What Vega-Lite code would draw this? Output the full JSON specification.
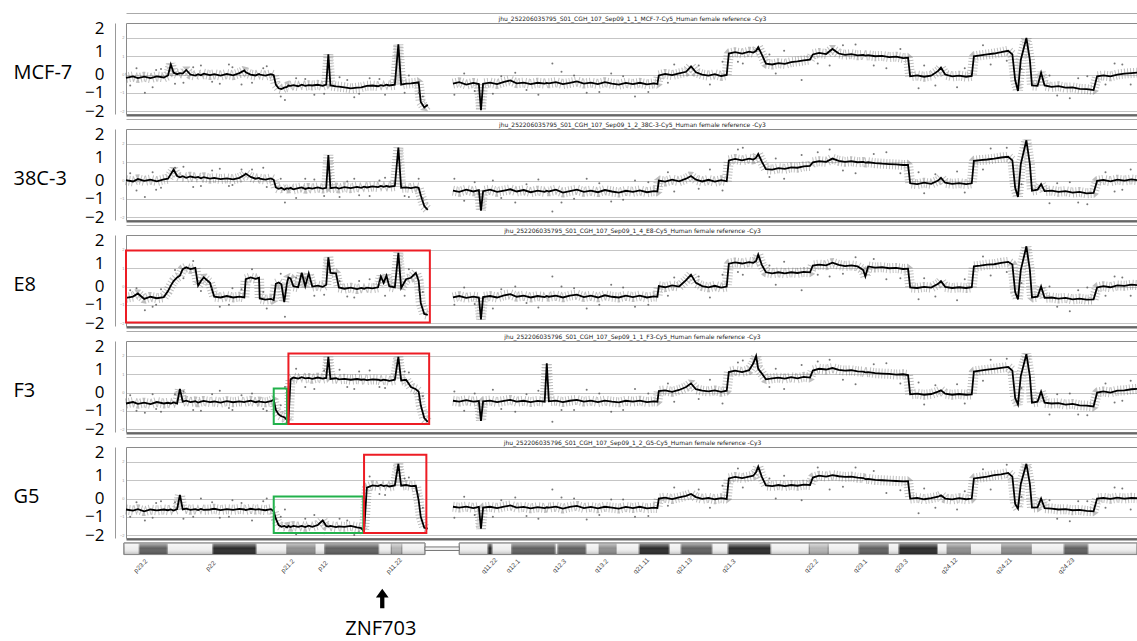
{
"$schema":"https://vega.github.io/schema/vega-lite/v6.json",
"background":"white",
"padding":{"left":12,"top":12,"right":0,"bottom":0},
"config":{"view":{"stroke":"#8a8a8a","strokeWidth":1}},
"datasets":{
"ln":[
{"x":0,"g":0,"a":-0.18,"b":0.02,"c":-0.62,"d":-0.6,"e":-0.6},
{"x":1,"g":0,"a":-0.1,"b":-0.05,"c":-0.55,"d":-0.52,"e":-0.66},
{"x":1.7,"g":0,"a":-0.2,"b":0.08,"c":-0.38,"d":-0.62,"e":-0.58},
{"x":2.6,"g":0,"a":-0.12,"b":-0.02,"c":-0.68,"d":-0.55,"e":-0.7},
{"x":3.5,"g":0,"a":-0.2,"b":0.05,"c":-0.56,"d":-0.63,"e":-0.6},
{"x":4.4,"g":0,"a":-0.1,"b":-0.04,"c":-0.64,"d":-0.52,"e":-0.65},
{"x":5.4,"g":0,"a":-0.16,"b":0.06,"c":-0.58,"d":-0.6,"e":-0.6},
{"x":6.0,"g":0,"a":-0.05,"b":0.1,"c":-0.25,"d":-0.56,"e":-0.64},
{"x":6.4,"g":0,"a":0.55,"b":0.35,"c":0.05,"d":-0.6,"e":-0.6},
{"x":6.8,"g":0,"a":0.1,"b":0.6,"c":0.3,"d":-0.54,"e":-0.66},
{"x":7.3,"g":0,"a":0.02,"b":0.25,"c":0.5,"d":-0.6,"e":-0.58},
{"x":7.7,"g":0,"a":0.08,"b":0.18,"c":0.6,"d":0.2,"e":0.2},
{"x":8.1,"g":0,"a":0.05,"b":0.24,"c":0.95,"d":-0.5,"e":-0.6},
{"x":8.6,"g":0,"a":0.25,"b":0.15,"c":1.05,"d":-0.45,"e":-0.55},
{"x":9.2,"g":0,"a":0.0,"b":0.22,"c":0.95,"d":-0.52,"e":-0.62},
{"x":9.9,"g":0,"a":-0.06,"b":0.16,"c":1.02,"d":-0.48,"e":-0.58},
{"x":10.3,"g":0,"a":0.02,"b":0.2,"c":0.05,"d":-0.55,"e":-0.63},
{"x":10.7,"g":0,"a":-0.04,"b":0.12,"c":0.3,"d":-0.5,"e":-0.57},
{"x":11.1,"g":0,"a":0.05,"b":0.18,"c":0.5,"d":-0.46,"e":-0.62},
{"x":12.0,"g":0,"a":-0.03,"b":0.1,"c":0.2,"d":-0.52,"e":-0.6},
{"x":12.6,"g":0,"a":0.02,"b":0.14,"c":-0.55,"d":-0.49,"e":-0.56},
{"x":13.5,"g":0,"a":-0.06,"b":0.08,"c":-0.6,"d":-0.55,"e":-0.63},
{"x":14.4,"g":0,"a":0.03,"b":0.12,"c":-0.52,"d":-0.47,"e":-0.58},
{"x":15.3,"g":0,"a":-0.04,"b":0.06,"c":-0.6,"d":-0.53,"e":-0.62},
{"x":16.2,"g":0,"a":0.08,"b":0.15,"c":-0.55,"d":-0.48,"e":-0.57},
{"x":16.9,"g":0,"a":0.22,"b":0.3,"c":-0.6,"d":-0.52,"e":-0.6},
{"x":17.1,"g":0,"a":0.12,"b":0.38,"c":0.4,"d":-0.5,"e":-0.63},
{"x":17.8,"g":0,"a":0.0,"b":0.2,"c":0.5,"d":-0.45,"e":-0.56},
{"x":18.5,"g":0,"a":-0.05,"b":0.1,"c":0.42,"d":-0.53,"e":-0.61},
{"x":19.0,"g":0,"a":0.03,"b":0.14,"c":0.48,"d":-0.48,"e":-0.58},
{"x":19.1,"g":0,"a":0.0,"b":0.1,"c":-0.65,"d":-0.5,"e":-0.6},
{"x":19.9,"g":0,"a":-0.06,"b":0.05,"c":-0.72,"d":-0.54,"e":-0.64},
{"x":20.7,"g":0,"a":0.02,"b":0.12,"c":-0.68,"d":-0.47,"e":-0.58},
{"x":21.1,"g":0,"a":-0.04,"b":0.04,"c":-0.74,"d":-0.4,"e":-0.7},
{"x":21.4,"g":0,"a":-0.55,"b":-0.38,"c":0.15,"d":-0.95,"e":-1.1},
{"x":21.8,"g":0,"a":-0.75,"b":-0.45,"c":0.22,"d":-1.2,"e":-1.45},
{"x":22.2,"g":0,"a":-0.8,"b":-0.4,"c":0.12,"d":-1.3,"e":-1.55},
{"x":22.6,"g":0,"a":-0.72,"b":-0.5,"c":-0.85,"d":-1.35,"e":-1.5},
{"x":23.0,"g":0,"a":-0.68,"b":-0.42,"c":0.2,"d":-1.5,"e":-1.58},
{"x":23.2,"g":0,"a":-0.6,"b":-0.45,"c":0.5,"d":-1.6,"e":-1.5},
{"x":23.5,"g":0,"a":-0.62,"b":-0.4,"c":0.45,"d":0.72,"e":-1.56},
{"x":23.9,"g":0,"a":-0.58,"b":-0.48,"c":0.02,"d":0.82,"e":-1.5},
{"x":24.6,"g":0,"a":-0.64,"b":-0.42,"c":-0.04,"d":0.76,"e":-1.55},
{"x":25.1,"g":0,"a":-0.56,"b":-0.38,"c":0.75,"d":0.84,"e":-1.5},
{"x":25.6,"g":0,"a":-0.62,"b":-0.46,"c":0.02,"d":0.78,"e":-1.56},
{"x":26.1,"g":0,"a":-0.58,"b":-0.4,"c":0.72,"d":0.8,"e":-1.49},
{"x":26.6,"g":0,"a":-0.6,"b":-0.44,"c":0.0,"d":0.75,"e":-1.55},
{"x":27.4,"g":0,"a":-0.56,"b":-0.38,"c":0.05,"d":0.82,"e":-1.45},
{"x":28.1,"g":0,"a":-0.62,"b":-0.44,"c":-0.02,"d":0.76,"e":-1.2},
{"x":28.6,"g":0,"a":-0.55,"b":-0.4,"c":0.1,"d":0.8,"e":-1.5},
{"x":28.9,"g":0,"a":1.1,"b":1.4,"c":1.6,"d":1.95,"e":-1.54},
{"x":29.2,"g":0,"a":-0.6,"b":-0.42,"c":0.75,"d":0.74,"e":-1.5},
{"x":30.0,"g":0,"a":-0.65,"b":-0.38,"c":0.72,"d":0.78,"e":-1.56},
{"x":30.4,"g":0,"a":-0.66,"b":-0.44,"c":-0.05,"d":0.72,"e":-1.52},
{"x":31.2,"g":0,"a":-0.7,"b":-0.36,"c":-0.12,"d":0.75,"e":-1.55},
{"x":32.1,"g":0,"a":-0.76,"b":-0.42,"c":-0.06,"d":0.7,"e":-1.5},
{"x":33.0,"g":0,"a":-0.72,"b":-0.35,"c":-0.14,"d":0.74,"e":-1.58},
{"x":33.6,"g":0,"a":-0.7,"b":-0.4,"c":-0.08,"d":0.7,"e":-1.62},
{"x":34.0,"g":0,"a":-0.66,"b":-0.34,"c":-0.12,"d":0.72,"e":-1.8},
{"x":34.4,"g":0,"a":-0.62,"b":-0.38,"c":-0.06,"d":0.68,"e":0.6},
{"x":35.2,"g":0,"a":-0.6,"b":-0.32,"c":-0.1,"d":0.72,"e":0.72},
{"x":36.0,"g":0,"a":-0.64,"b":-0.36,"c":-0.04,"d":0.7,"e":0.68},
{"x":36.4,"g":0,"a":-0.58,"b":-0.3,"c":0.55,"d":0.66,"e":0.74},
{"x":36.8,"g":0,"a":-0.62,"b":-0.35,"c":0.2,"d":0.7,"e":0.68},
{"x":37.2,"g":0,"a":-0.56,"b":-0.3,"c":0.6,"d":0.68,"e":0.72},
{"x":37.6,"g":0,"a":-0.6,"b":-0.34,"c":0.02,"d":0.64,"e":0.66},
{"x":38.4,"g":0,"a":-0.56,"b":-0.3,"c":-0.05,"d":0.7,"e":0.72},
{"x":38.9,"g":0,"a":1.65,"b":1.8,"c":1.85,"d":1.95,"e":1.9},
{"x":39.3,"g":0,"a":-0.55,"b":-0.4,"c":-0.08,"d":0.66,"e":0.7},
{"x":40.0,"g":0,"a":-0.5,"b":-0.38,"c":0.4,"d":0.7,"e":0.74},
{"x":40.7,"g":0,"a":-0.48,"b":-0.42,"c":0.48,"d":0.3,"e":0.68},
{"x":41.4,"g":0,"a":-0.45,"b":-0.36,"c":0.75,"d":0.18,"e":0.7},
{"x":41.8,"g":0,"a":-0.42,"b":-0.4,"c":0.3,"d":0.05,"e":-0.1},
{"x":42.1,"g":0,"a":-1.5,"b":-0.8,"c":-0.9,"d":-0.7,"e":-1.0},
{"x":42.6,"g":0,"a":-1.8,"b":-1.4,"c":-1.5,"d":-1.4,"e":-1.6},
{"x":43.1,"g":0,"a":-1.65,"b":-1.6,"c":-1.55,"d":-1.6,"e":-1.65},
{"x":46.7,"g":1,"a":-0.5,"b":-0.55,"c":-0.6,"d":-0.45,"e":-0.45},
{"x":47.6,"g":1,"a":-0.42,"b":-0.62,"c":-0.52,"d":-0.5,"e":-0.5},
{"x":48.6,"g":1,"a":-0.55,"b":-0.5,"c":-0.62,"d":-0.42,"e":-0.44},
{"x":49.6,"g":1,"a":-0.46,"b":-0.6,"c":-0.55,"d":-0.5,"e":-0.52},
{"x":50.4,"g":1,"a":-0.52,"b":-0.52,"c":-0.6,"d":-0.46,"e":-0.46},
{"x":50.7,"g":1,"a":-1.95,"b":-1.65,"c":-1.8,"d":-1.55,"e":-1.65},
{"x":51.0,"g":1,"a":-0.5,"b":-0.58,"c":-0.58,"d":-0.48,"e":-0.5},
{"x":52.0,"g":1,"a":-0.44,"b":-0.5,"c":-0.52,"d":-0.44,"e":-0.45},
{"x":53.0,"g":1,"a":-0.52,"b":-0.62,"c":-0.6,"d":-0.52,"e":-0.52},
{"x":54.0,"g":1,"a":-0.4,"b":-0.55,"c":-0.48,"d":-0.46,"e":-0.44},
{"x":54.9,"g":1,"a":-0.32,"b":-0.48,"c":-0.42,"d":-0.4,"e":-0.38},
{"x":55.8,"g":1,"a":-0.48,"b":-0.6,"c":-0.56,"d":-0.5,"e":-0.5},
{"x":56.8,"g":1,"a":-0.44,"b":-0.52,"c":-0.5,"d":-0.45,"e":-0.46},
{"x":57.8,"g":1,"a":-0.52,"b":-0.64,"c":-0.6,"d":-0.52,"e":-0.54},
{"x":58.8,"g":1,"a":-0.45,"b":-0.55,"c":-0.52,"d":-0.46,"e":-0.47},
{"x":59.8,"g":1,"a":-0.5,"b":-0.62,"c":-0.58,"d":-0.5,"e":-0.52},
{"x":60.1,"g":1,"a":-0.46,"b":-0.56,"c":-0.52,"d":1.6,"e":-0.48},
{"x":60.4,"g":1,"a":-0.48,"b":-0.6,"c":-0.56,"d":-0.48,"e":-0.5},
{"x":61.4,"g":1,"a":-0.42,"b":-0.5,"c":-0.5,"d":-0.44,"e":-0.44},
{"x":62.4,"g":1,"a":-0.52,"b":-0.66,"c":-0.6,"d":-0.52,"e":-0.55},
{"x":63.4,"g":1,"a":-0.46,"b":-0.58,"c":-0.5,"d":-0.45,"e":-0.46},
{"x":64.4,"g":1,"a":-0.38,"b":-0.5,"c":-0.44,"d":-0.4,"e":-0.4},
{"x":65.4,"g":1,"a":-0.5,"b":-0.62,"c":-0.58,"d":-0.5,"e":-0.52},
{"x":66.4,"g":1,"a":-0.44,"b":-0.55,"c":-0.5,"d":-0.44,"e":-0.46},
{"x":67.4,"g":1,"a":-0.52,"b":-0.64,"c":-0.6,"d":-0.52,"e":-0.54},
{"x":68.4,"g":1,"a":-0.42,"b":-0.52,"c":-0.48,"d":-0.44,"e":-0.45},
{"x":69.4,"g":1,"a":-0.5,"b":-0.6,"c":-0.56,"d":-0.5,"e":-0.5},
{"x":70.4,"g":1,"a":-0.55,"b":-0.66,"c":-0.6,"d":-0.54,"e":-0.55},
{"x":71.4,"g":1,"a":-0.46,"b":-0.56,"c":-0.5,"d":-0.45,"e":-0.46},
{"x":72.4,"g":1,"a":-0.52,"b":-0.62,"c":-0.58,"d":-0.5,"e":-0.52},
{"x":73.4,"g":1,"a":-0.45,"b":-0.54,"c":-0.5,"d":-0.44,"e":-0.45},
{"x":74.4,"g":1,"a":-0.54,"b":-0.64,"c":-0.6,"d":-0.52,"e":-0.54},
{"x":75.4,"g":1,"a":-0.48,"b":-0.58,"c":-0.54,"d":-0.48,"e":-0.5},
{"x":75.9,"g":1,"a":-0.52,"b":-0.6,"c":-0.56,"d":-0.5,"e":-0.52},
{"x":76.1,"g":1,"a":-0.05,"b":0.0,"c":0.02,"d":0.08,"e":0.0},
{"x":77.0,"g":1,"a":0.04,"b":-0.06,"c":-0.04,"d":0.12,"e":0.05},
{"x":78.0,"g":1,"a":-0.03,"b":0.05,"c":0.06,"d":0.04,"e":-0.03},
{"x":79.0,"g":1,"a":0.06,"b":-0.04,"c":0.0,"d":0.14,"e":0.06},
{"x":80.0,"g":1,"a":0.15,"b":0.1,"c":0.35,"d":0.3,"e":0.15},
{"x":80.7,"g":1,"a":0.45,"b":0.25,"c":0.65,"d":0.5,"e":0.25},
{"x":81.4,"g":1,"a":0.12,"b":0.05,"c":0.2,"d":0.18,"e":0.08},
{"x":82.3,"g":1,"a":0.0,"b":-0.05,"c":0.02,"d":0.1,"e":-0.02},
{"x":83.2,"g":1,"a":-0.06,"b":0.04,"c":-0.05,"d":0.06,"e":0.04},
{"x":84.1,"g":1,"a":0.02,"b":-0.06,"c":0.04,"d":0.12,"e":-0.04},
{"x":85.0,"g":1,"a":-0.08,"b":0.02,"c":-0.06,"d":0.04,"e":0.02},
{"x":85.8,"g":1,"a":-0.02,"b":-0.04,"c":0.0,"d":0.1,"e":-0.02},
{"x":86.1,"g":1,"a":1.15,"b":1.1,"c":1.25,"d":1.12,"e":1.1},
{"x":87.0,"g":1,"a":1.22,"b":1.18,"c":1.32,"d":1.2,"e":1.18},
{"x":88.0,"g":1,"a":1.15,"b":1.1,"c":1.26,"d":1.12,"e":1.12},
{"x":89.0,"g":1,"a":1.25,"b":1.2,"c":1.34,"d":1.22,"e":1.2},
{"x":89.6,"g":1,"a":1.2,"b":1.15,"c":1.3,"d":1.6,"e":1.25},
{"x":90.0,"g":1,"a":1.3,"b":1.25,"c":1.4,"d":2.0,"e":1.45},
{"x":90.3,"g":1,"a":1.5,"b":1.45,"c":1.75,"d":1.3,"e":1.75},
{"x":90.8,"g":1,"a":1.1,"b":1.05,"c":1.2,"d":1.05,"e":1.2},
{"x":91.4,"g":1,"a":0.6,"b":0.62,"c":0.78,"d":0.72,"e":0.72},
{"x":92.3,"g":1,"a":0.55,"b":0.6,"c":0.72,"d":0.78,"e":0.68},
{"x":93.2,"g":1,"a":0.62,"b":0.68,"c":0.78,"d":0.82,"e":0.74},
{"x":94.1,"g":1,"a":0.58,"b":0.64,"c":0.72,"d":0.76,"e":0.68},
{"x":95.0,"g":1,"a":0.68,"b":0.72,"c":0.78,"d":0.84,"e":0.74},
{"x":95.9,"g":1,"a":0.72,"b":0.7,"c":0.74,"d":0.78,"e":0.7},
{"x":96.8,"g":1,"a":0.78,"b":0.78,"c":0.8,"d":0.86,"e":0.76},
{"x":97.7,"g":1,"a":0.82,"b":0.8,"c":0.78,"d":0.82,"e":0.74},
{"x":98.1,"g":1,"a":1.1,"b":1.0,"c":1.15,"d":1.2,"e":1.15},
{"x":99.0,"g":1,"a":1.18,"b":1.06,"c":1.2,"d":1.3,"e":1.25},
{"x":100.0,"g":1,"a":1.12,"b":1.02,"c":1.16,"d":1.26,"e":1.2},
{"x":100.9,"g":1,"a":1.4,"b":1.2,"c":1.3,"d":1.34,"e":1.28},
{"x":101.8,"g":1,"a":1.15,"b":1.08,"c":1.18,"d":1.24,"e":1.22},
{"x":102.7,"g":1,"a":1.08,"b":1.02,"c":1.12,"d":1.2,"e":1.18},
{"x":103.6,"g":1,"a":1.12,"b":1.06,"c":1.16,"d":1.22,"e":1.2},
{"x":104.5,"g":1,"a":1.05,"b":1.0,"c":1.1,"d":1.16,"e":1.14},
{"x":105.3,"g":1,"a":1.08,"b":1.02,"c":0.9,"d":1.14,"e":1.12},
{"x":105.6,"g":1,"a":1.04,"b":0.98,"c":0.55,"d":1.1,"e":1.06},
{"x":106.0,"g":1,"a":1.06,"b":1.0,"c":1.1,"d":1.12,"e":1.08},
{"x":107.0,"g":1,"a":1.0,"b":0.95,"c":1.04,"d":1.06,"e":1.02},
{"x":108.0,"g":1,"a":1.02,"b":0.92,"c":1.06,"d":1.04,"e":1.0},
{"x":109.0,"g":1,"a":0.95,"b":0.9,"c":1.0,"d":1.02,"e":0.98},
{"x":110.0,"g":1,"a":0.98,"b":0.88,"c":1.02,"d":0.98,"e":0.96},
{"x":111.0,"g":1,"a":0.9,"b":0.85,"c":0.96,"d":1.0,"e":0.94},
{"x":111.7,"g":1,"a":0.92,"b":0.86,"c":0.98,"d":0.96,"e":0.95},
{"x":112.0,"g":1,"a":-0.1,"b":-0.15,"c":-0.05,"d":-0.1,"e":0.0},
{"x":113.0,"g":1,"a":-0.05,"b":-0.2,"c":-0.08,"d":-0.06,"e":0.04},
{"x":114.0,"g":1,"a":-0.12,"b":-0.12,"c":-0.02,"d":-0.12,"e":-0.04},
{"x":115.0,"g":1,"a":-0.06,"b":-0.18,"c":-0.06,"d":-0.08,"e":0.02},
{"x":116.0,"g":1,"a":0.2,"b":0.0,"c":0.15,"d":0.05,"e":0.1},
{"x":116.4,"g":1,"a":0.38,"b":0.15,"c":0.3,"d":0.12,"e":0.18},
{"x":117.0,"g":1,"a":0.0,"b":-0.12,"c":-0.02,"d":-0.06,"e":0.0},
{"x":118.0,"g":1,"a":-0.1,"b":-0.18,"c":-0.08,"d":-0.12,"e":-0.05},
{"x":119.0,"g":1,"a":-0.06,"b":-0.14,"c":-0.04,"d":-0.08,"e":0.02},
{"x":120.0,"g":1,"a":-0.12,"b":-0.2,"c":-0.08,"d":-0.12,"e":-0.04},
{"x":120.8,"g":1,"a":-0.08,"b":-0.15,"c":-0.04,"d":-0.1,"e":0.0},
{"x":121.1,"g":1,"a":1.0,"b":1.08,"c":1.1,"d":1.15,"e":1.1},
{"x":122.0,"g":1,"a":1.05,"b":1.12,"c":1.14,"d":1.2,"e":1.15},
{"x":123.0,"g":1,"a":1.1,"b":1.15,"c":1.2,"d":1.25,"e":1.2},
{"x":124.0,"g":1,"a":1.15,"b":1.2,"c":1.22,"d":1.3,"e":1.28},
{"x":125.0,"g":1,"a":1.22,"b":1.26,"c":1.3,"d":1.35,"e":1.32},
{"x":126.0,"g":1,"a":1.3,"b":1.3,"c":1.35,"d":1.4,"e":1.4},
{"x":126.6,"g":1,"a":1.1,"b":1.1,"c":1.2,"d":1.2,"e":1.2},
{"x":127.0,"g":1,"a":-0.3,"b":-0.4,"c":-0.3,"d":-0.3,"e":-0.3},
{"x":127.4,"g":1,"a":-0.9,"b":-0.9,"c":-0.7,"d":-0.65,"e":-0.55},
{"x":127.8,"g":1,"a":0.8,"b":0.9,"c":0.9,"d":0.9,"e":0.8},
{"x":128.6,"g":1,"a":2.0,"b":2.2,"c":2.2,"d":2.1,"e":1.9},
{"x":129.1,"g":1,"a":0.8,"b":0.9,"c":0.9,"d":0.9,"e":0.8},
{"x":129.4,"g":1,"a":-0.6,"b":-0.55,"c":-0.6,"d":-0.55,"e":-0.5},
{"x":130.2,"g":1,"a":-0.62,"b":-0.5,"c":-0.56,"d":-0.5,"e":-0.48},
{"x":130.7,"g":1,"a":0.1,"b":-0.2,"c":0.0,"d":0.05,"e":0.0},
{"x":131.2,"g":1,"a":-0.6,"b":-0.58,"c":-0.62,"d":-0.56,"e":-0.52},
{"x":132.2,"g":1,"a":-0.68,"b":-0.55,"c":-0.6,"d":-0.6,"e":-0.55},
{"x":133.2,"g":1,"a":-0.64,"b":-0.62,"c":-0.66,"d":-0.58,"e":-0.6},
{"x":134.2,"g":1,"a":-0.72,"b":-0.58,"c":-0.62,"d":-0.66,"e":-0.58},
{"x":135.2,"g":1,"a":-0.7,"b":-0.66,"c":-0.7,"d":-0.62,"e":-0.64},
{"x":136.2,"g":1,"a":-0.78,"b":-0.62,"c":-0.66,"d":-0.7,"e":-0.62},
{"x":137.2,"g":1,"a":-0.8,"b":-0.7,"c":-0.72,"d":-0.72,"e":-0.68},
{"x":138.2,"g":1,"a":-0.85,"b":-0.68,"c":-0.7,"d":-0.76,"e":-0.7},
{"x":138.7,"g":1,"a":-0.1,"b":-0.02,"c":-0.05,"d":0.0,"e":0.0},
{"x":139.6,"g":1,"a":-0.05,"b":0.04,"c":0.02,"d":0.06,"e":0.04},
{"x":140.6,"g":1,"a":-0.1,"b":-0.04,"c":-0.04,"d":0.0,"e":-0.02},
{"x":141.6,"g":1,"a":0.0,"b":0.05,"c":0.06,"d":0.1,"e":0.05},
{"x":142.6,"g":1,"a":0.05,"b":0.0,"c":0.04,"d":0.12,"e":0.0},
{"x":143.6,"g":1,"a":0.08,"b":0.06,"c":0.1,"d":0.18,"e":0.04},
{"x":144.4,"g":1,"a":0.1,"b":0.02,"c":0.08,"d":0.2,"e":0.02}
],
"sc":[
{"x":0.6,"a":-0.6,"b":0.4,"c":-0.2,"d":-0.15,"e":-1.0},
{"x":1.5,"a":0.35,"b":-0.55,"c":-0.1,"d":-1.0,"e":-0.2},
{"x":2.7,"a":-1.0,"b":-0.9,"c":-1.3,"d":-1.1,"e":-1.2},
{"x":3.8,"a":-0.7,"b":0.45,"c":-1.1,"d":-0.1,"e":-1.05},
{"x":4.3,"a":0.25,"b":-0.5,"c":-1.0,"d":-0.9,"e":-0.25},
{"x":5.0,"a":0.3,"b":-0.4,"c":-0.15,"d":-1.05,"e":-0.15},
{"x":7.0,"a":-0.5,"b":0.7,"c":0.9,"d":-0.1,"e":-0.2},
{"x":8.2,"a":-0.45,"b":0.75,"c":0.45,"d":0.05,"e":-1.1},
{"x":9.6,"a":0.4,"b":-0.35,"c":1.4,"d":-0.95,"e":-1.0},
{"x":10.7,"a":0.5,"b":-0.3,"c":-0.25,"d":-1.0,"e":0.0},
{"x":12.3,"a":-0.4,"b":0.55,"c":-0.1,"d":-0.1,"e":-0.2},
{"x":13.4,"a":-0.5,"b":0.65,"c":-1.1,"d":0.1,"e":-1.05},
{"x":14.7,"a":0.55,"b":-0.3,"c":-1.0,"d":-0.85,"e":-1.0},
{"x":15.2,"a":0.4,"b":-0.25,"c":-0.1,"d":-0.95,"e":-0.1},
{"x":16.5,"a":-0.55,"b":0.6,"c":-0.15,"d":-0.15,"e":-0.25},
{"x":18.0,"a":-0.45,"b":0.6,"c":0.95,"d":-0.05,"e":-1.2},
{"x":19.6,"a":0.35,"b":0.7,"c":-0.3,"d":-0.9,"e":-0.15},
{"x":20.1,"a":0.45,"b":-0.35,"c":-1.2,"d":-1.0,"e":0.0},
{"x":22.1,"a":-1.2,"b":0.1,"c":0.7,"d":-0.7,"e":-1.0},
{"x":22.7,"a":-1.4,"b":-1.2,"c":-1.65,"d":0.3,"e":-0.6},
{"x":24.3,"a":-0.2,"b":-0.95,"c":0.5,"d":1.3,"e":-1.95},
{"x":25.6,"a":-0.25,"b":0.1,"c":0.45,"d":0.3,"e":-1.1},
{"x":26.9,"a":-1.1,"b":0.05,"c":-0.5,"d":0.2,"e":-0.9},
{"x":28.3,"a":-1.05,"b":-0.85,"c":-0.45,"d":1.2,"e":-1.9},
{"x":30.5,"a":-0.15,"b":-0.9,"c":0.3,"d":1.25,"e":-1.1},
{"x":31.6,"a":-0.3,"b":-0.05,"c":-0.55,"d":0.3,"e":-1.2},
{"x":32.6,"a":-1.25,"b":0.1,"c":-0.6,"d":0.2,"e":-2.0},
{"x":33.3,"a":-1.05,"b":-0.8,"c":0.3,"d":1.15,"e":-1.85},
{"x":34.8,"a":-0.2,"b":-0.85,"c":0.4,"d":1.2,"e":1.2},
{"x":36.2,"a":-0.25,"b":0.0,"c":0.2,"d":0.3,"e":0.25},
{"x":37.0,"a":-1.1,"b":0.15,"c":-0.5,"d":0.25,"e":0.2},
{"x":39.8,"a":-1.0,"b":-0.85,"c":-0.5,"d":1.15,"e":1.1},
{"x":40.4,"a":-0.05,"b":-0.9,"c":0.95,"d":1.1,"e":1.15},
{"x":41.8,"a":-1.0,"b":0.1,"c":-0.2,"d":-0.4,"e":0.2},
{"x":42.4,"a":-1.2,"b":-1.0,"c":-0.3,"d":-0.2,"e":-0.5},
{"x":46.9,"a":-1.1,"b":0.1,"c":-1.0,"d":0.05,"e":-1.05},
{"x":48.3,"a":0.05,"b":-1.1,"c":-0.05,"d":-1.0,"e":0.1},
{"x":49.8,"a":-0.9,"b":-0.1,"c":-0.95,"d":-0.05,"e":-0.9},
{"x":52.4,"a":-1.05,"b":0.0,"c":-1.2,"d":0.15,"e":-1.0},
{"x":53.6,"a":-0.1,"b":-0.95,"c":-0.15,"d":-0.9,"e":-0.1},
{"x":55.6,"a":0.1,"b":-1.2,"c":0.0,"d":-1.05,"e":0.05},
{"x":57.2,"a":-0.85,"b":-0.2,"c":-0.9,"d":-0.1,"e":-0.95},
{"x":58.9,"a":-1.1,"b":0.05,"c":-1.15,"d":0.1,"e":-1.1},
{"x":60.9,"a":0.6,"b":-1.7,"c":0.55,"d":-1.6,"e":0.5},
{"x":62.2,"a":0.15,"b":-1.2,"c":0.0,"d":-0.95,"e":0.05},
{"x":64.0,"a":-0.05,"b":-1.0,"c":-0.1,"d":-0.95,"e":0.0},
{"x":65.8,"a":-1.0,"b":0.1,"c":-1.2,"d":0.15,"e":-1.15},
{"x":67.6,"a":-0.95,"b":-0.15,"c":-1.0,"d":-0.05,"e":-0.9},
{"x":69.3,"a":0.05,"b":-1.15,"c":0.1,"d":-1.05,"e":-0.05},
{"x":71.0,"a":-0.1,"b":-1.05,"c":-0.05,"d":-0.95,"e":-0.05},
{"x":72.7,"a":-1.2,"b":0.0,"c":-1.1,"d":0.2,"e":-1.0},
{"x":74.6,"a":-0.95,"b":-0.1,"c":-1.0,"d":-0.05,"e":-0.95},
{"x":77.4,"a":-0.45,"b":0.45,"c":-0.5,"d":0.5,"e":-0.4},
{"x":78.3,"a":0.55,"b":-0.6,"c":0.5,"d":-0.5,"e":0.6},
{"x":81.8,"a":0.5,"b":-0.45,"c":0.55,"d":-0.35,"e":0.5},
{"x":83.4,"a":-0.55,"b":0.6,"c":-0.6,"d":0.7,"e":-0.5},
{"x":85.2,"a":0.7,"b":-0.55,"c":0.65,"d":-0.6,"e":0.7},
{"x":87.4,"a":0.7,"b":1.7,"c":0.8,"d":1.65,"e":1.65},
{"x":88.1,"a":0.6,"b":1.8,"c":0.65,"d":1.75,"e":0.6},
{"x":91.9,"a":1.1,"b":0.2,"c":1.15,"d":0.3,"e":1.1},
{"x":92.8,"a":0.05,"b":1.2,"c":0.1,"d":1.3,"e":0.0},
{"x":94.0,"a":1.3,"b":0.1,"c":1.35,"d":0.2,"e":1.25},
{"x":96.5,"a":-0.3,"b":1.4,"c":-0.2,"d":1.5,"e":-0.1},
{"x":98.8,"a":0.6,"b":1.55,"c":0.65,"d":1.7,"e":1.7},
{"x":100.5,"a":0.5,"b":1.7,"c":0.55,"d":1.8,"e":0.5},
{"x":102.4,"a":1.6,"b":0.55,"c":0.7,"d":0.7,"e":0.65},
{"x":104.2,"a":1.65,"b":0.4,"c":1.6,"d":0.45,"e":1.7},
{"x":106.8,"a":0.5,"b":1.45,"c":1.5,"d":1.55,"e":1.5},
{"x":108.6,"a":0.35,"b":1.55,"c":0.4,"d":1.6,"e":0.3},
{"x":110.6,"a":1.4,"b":0.4,"c":0.45,"d":0.5,"e":0.45},
{"x":113.2,"a":-0.75,"b":0.45,"c":-0.7,"d":0.55,"e":-0.8},
{"x":114.0,"a":0.5,"b":-0.7,"c":0.45,"d":-0.65,"e":0.55},
{"x":115.6,"a":-0.6,"b":0.35,"c":-0.55,"d":0.4,"e":-0.5},
{"x":118.7,"a":-0.7,"b":0.5,"c":-0.75,"d":0.45,"e":-0.6},
{"x":119.8,"a":0.35,"b":-0.65,"c":0.4,"d":-0.6,"e":0.4},
{"x":122.4,"a":1.6,"b":0.6,"c":1.65,"d":0.65,"e":1.6},
{"x":123.5,"a":0.55,"b":1.75,"c":0.6,"d":1.8,"e":0.5},
{"x":125.8,"a":0.75,"b":1.8,"c":0.8,"d":1.85,"e":1.85},
{"x":127.9,"a":0.3,"b":-0.2,"c":0.2,"d":0.25,"e":0.1},
{"x":131.9,"a":-0.05,"b":-1.25,"c":0.0,"d":-1.2,"e":-0.1},
{"x":133.0,"a":-1.15,"b":-0.15,"c":-1.1,"d":-0.1,"e":-1.1},
{"x":134.8,"a":-1.3,"b":-0.1,"c":-1.35,"d":-0.05,"e":-1.25},
{"x":136.0,"a":-0.2,"b":-1.2,"c":-0.2,"d":-1.2,"e":-0.15},
{"x":137.3,"a":-0.1,"b":-1.3,"c":-0.05,"d":-1.25,"e":-0.15},
{"x":139.9,"a":-0.55,"b":0.45,"c":-0.5,"d":0.5,"e":-0.5},
{"x":141.2,"a":0.6,"b":-0.6,"c":0.55,"d":-0.55,"e":0.6},
{"x":142.3,"a":0.55,"b":-0.5,"c":0.5,"d":-0.45,"e":0.55},
{"x":143.5,"a":-0.55,"b":0.6,"c":-0.5,"d":0.65,"e":-0.6}
],
"bands":[
{"s":-0.3,"t":1.9,"k":"w"},{"s":1.9,"t":5.9,"k":"d"},{"s":5.9,"t":12.4,"k":"w"},{"s":12.4,"t":18.6,"k":"b"},{"s":18.6,"t":23,"k":"w"},{"s":23,"t":27,"k":"g"},{"s":27,"t":28.4,"k":"w"},{"s":28.4,"t":36.1,"k":"d"},{"s":36.1,"t":37.9,"k":"w"},{"s":37.9,"t":39.4,"k":"l"},{"s":39.4,"t":42.7,"k":"w"},
{"s":47.6,"t":51.7,"k":"w"},{"s":51.7,"t":52.3,"k":"b"},{"s":52.3,"t":55.1,"k":"w"},{"s":55.1,"t":61.3,"k":"d"},{"s":61.3,"t":61.7,"k":"w"},{"s":61.7,"t":65.7,"k":"d"},{"s":65.7,"t":67.6,"k":"w"},{"s":67.6,"t":70,"k":"g"},{"s":70,"t":73.3,"k":"w"},{"s":73.3,"t":77.6,"k":"b"},{"s":77.6,"t":79.3,"k":"w"},{"s":79.3,"t":83.7,"k":"d"},{"s":83.7,"t":86,"k":"w"},{"s":86,"t":92.1,"k":"b"},{"s":92.1,"t":97.6,"k":"w"},{"s":97.6,"t":100.3,"k":"l"},{"s":100.3,"t":104.7,"k":"w"},{"s":104.7,"t":108.9,"k":"d"},{"s":108.9,"t":110.4,"k":"w"},{"s":110.4,"t":115.9,"k":"b"},{"s":115.9,"t":117.3,"k":"w"},{"s":117.3,"t":120.6,"k":"g"},{"s":120.6,"t":125.1,"k":"w"},{"s":125.1,"t":129.3,"k":"g"},{"s":129.3,"t":134,"k":"w"},{"s":134,"t":137.4,"k":"d"},{"s":137.4,"t":144.4,"k":"w"}
],
"labs":[
{"x":2.1,"n":"p23.2"},{"x":12.1,"n":"p22"},{"x":23.1,"n":"p21.2"},{"x":28.1,"n":"p12"},{"x":38.3,"n":"p11.22"},{"x":51.9,"n":"q11.22"},{"x":55.3,"n":"q12.1"},{"x":61.9,"n":"q12.3"},{"x":67.9,"n":"q13.2"},{"x":73.6,"n":"q21.11"},{"x":79.7,"n":"q21.13"},{"x":86.1,"n":"q21.3"},{"x":97.9,"n":"q22.2"},{"x":104.9,"n":"q23.1"},{"x":110.7,"n":"q23.3"},{"x":117.6,"n":"q24.12"},{"x":125.4,"n":"q24.21"},{"x":134.3,"n":"q24.23"}
]
},
"spacing":15,
"bounds":"flush",
"vconcat":[
{"width":1011,"height":91,"resolve":{"axis":{"x":"independent","y":"independent"}},"layer":[
{"data":{"name":"ln"},"mark":{"type":"line","stroke":"#555555","strokeWidth":10,"strokeDash":[1,2],"opacity":0.38,"strokeJoin":"bevel","strokeCap":"butt"},"encoding":{
"x":{"field":"x","type":"quantitative","scale":{"domain":[0,144.4],"nice":false,"zero":false},"axis":{"orient":"top","offset":10,"domainColor":"#aaaaaa","labels":false,"ticks":false,"grid":false,"title":"jhu_252206035795_S01_CGH_107_Sep09_1_1_MCF-7-Cy5_Human female reference -Cy3","titleFontSize":6,"titleFont":"DejaVu Sans","titleFontWeight":"normal","titleColor":"#222222","titleX":506,"titleY":5,"titleAlign":"center","titleBaseline":"middle"}},
"y":{"field":"a","type":"quantitative","scale":{"domain":[-2.16,2.82],"nice":false,"zero":false},"axis":{"orient":"left","offset":11,"values":[2,1,0,-1,-2],"domainColor":"#999999","ticks":false,"grid":false,"labelFontSize":17,"labelFont":"Open Sans","labelColor":"#000000","labelPadding":11,"labelBaseline":{"condition":[{"test":"datum.value > 1.5","value":"bottom"},{"test":"datum.value > 0.5","value":"alphabetic"}],"value":"middle"},"labelFlush":false,"labelOverlap":false,"title":"MCF-7","titleAngle":0,"titleAlign":"left","titleBaseline":"middle","titleX":-102,"titleY":49,"titleFontSize":20,"titleFont":"Open Sans","titleFontWeight":"normal","titleColor":"#000000"}},
"detail":{"field":"g"}}},
{"data":{"name":"ln"},"mark":{"type":"line","stroke":"#000000","strokeWidth":1.8},"encoding":{
"x":{"field":"x","type":"quantitative","axis":{"orient":"bottom","offset":1,"domainColor":"#666666","domainWidth":2,"labels":false,"ticks":false,"grid":false,"title":null}},
"y":{"field":"a","type":"quantitative","axis":{"orient":"left","offset":0,"values":[2,1,0,-1,-2],"domain":false,"ticks":false,"labelFontSize":4,"labelColor":"#999999","labelPadding":2,"labelFlush":false,"grid":true,"gridDash":[1,1],"gridColor":"#8a8a8a","title":null}},
"detail":{"field":"g"}}},
{"data":{"name":"sc"},"mark":{"type":"circle","size":4,"color":"#555555","opacity":0.8},"encoding":{"x":{"field":"x","type":"quantitative","axis":null},"y":{"field":"a","type":"quantitative","axis":null}}}
]},
{"width":1011,"height":91,"resolve":{"axis":{"x":"independent","y":"independent"}},"layer":[
{"data":{"name":"ln"},"mark":{"type":"line","stroke":"#555555","strokeWidth":10,"strokeDash":[1,2],"opacity":0.38,"strokeJoin":"bevel","strokeCap":"butt"},"encoding":{
"x":{"field":"x","type":"quantitative","scale":{"domain":[0,144.4],"nice":false,"zero":false},"axis":{"orient":"top","offset":10,"domainColor":"#aaaaaa","labels":false,"ticks":false,"grid":false,"title":"jhu_252206035795_S01_CGH_107_Sep09_1_2_38C-3-Cy5_Human female reference -Cy3","titleFontSize":6,"titleFont":"DejaVu Sans","titleFontWeight":"normal","titleColor":"#222222","titleX":506,"titleY":5,"titleAlign":"center","titleBaseline":"middle"}},
"y":{"field":"b","type":"quantitative","scale":{"domain":[-2.16,2.82],"nice":false,"zero":false},"axis":{"orient":"left","offset":11,"values":[2,1,0,-1,-2],"domainColor":"#999999","ticks":false,"grid":false,"labelFontSize":17,"labelFont":"Open Sans","labelColor":"#000000","labelPadding":11,"labelBaseline":{"condition":[{"test":"datum.value > 1.5","value":"bottom"},{"test":"datum.value > 0.5","value":"alphabetic"}],"value":"middle"},"labelFlush":false,"labelOverlap":false,"title":"38C-3","titleAngle":0,"titleAlign":"left","titleBaseline":"middle","titleX":-102,"titleY":49,"titleFontSize":20,"titleFont":"Open Sans","titleFontWeight":"normal","titleColor":"#000000"}},
"detail":{"field":"g"}}},
{"data":{"name":"ln"},"mark":{"type":"line","stroke":"#000000","strokeWidth":1.8},"encoding":{
"x":{"field":"x","type":"quantitative","axis":{"orient":"bottom","offset":1,"domainColor":"#666666","domainWidth":2,"labels":false,"ticks":false,"grid":false,"title":null}},
"y":{"field":"b","type":"quantitative","axis":{"orient":"left","offset":0,"values":[2,1,0,-1,-2],"domain":false,"ticks":false,"labelFontSize":4,"labelColor":"#999999","labelPadding":2,"labelFlush":false,"grid":true,"gridDash":[1,1],"gridColor":"#8a8a8a","title":null}},
"detail":{"field":"g"}}},
{"data":{"name":"sc"},"mark":{"type":"circle","size":4,"color":"#555555","opacity":0.8},"encoding":{"x":{"field":"x","type":"quantitative","axis":null},"y":{"field":"b","type":"quantitative","axis":null}}}
]},
{"width":1011,"height":91,"resolve":{"axis":{"x":"independent","y":"independent"}},"layer":[
{"data":{"name":"ln"},"mark":{"type":"line","stroke":"#555555","strokeWidth":10,"strokeDash":[1,2],"opacity":0.38,"strokeJoin":"bevel","strokeCap":"butt"},"encoding":{
"x":{"field":"x","type":"quantitative","scale":{"domain":[0,144.4],"nice":false,"zero":false},"axis":{"orient":"top","offset":10,"domainColor":"#aaaaaa","labels":false,"ticks":false,"grid":false,"title":"jhu_252206035795_S01_CGH_107_Sep09_1_4_E8-Cy5_Human female reference -Cy3","titleFontSize":6,"titleFont":"DejaVu Sans","titleFontWeight":"normal","titleColor":"#222222","titleX":506,"titleY":5,"titleAlign":"center","titleBaseline":"middle"}},
"y":{"field":"c","type":"quantitative","scale":{"domain":[-2.16,2.82],"nice":false,"zero":false},"axis":{"orient":"left","offset":11,"values":[2,1,0,-1,-2],"domainColor":"#999999","ticks":false,"grid":false,"labelFontSize":17,"labelFont":"Open Sans","labelColor":"#000000","labelPadding":11,"labelBaseline":{"condition":[{"test":"datum.value > 1.5","value":"bottom"},{"test":"datum.value > 0.5","value":"alphabetic"}],"value":"middle"},"labelFlush":false,"labelOverlap":false,"title":"E8","titleAngle":0,"titleAlign":"left","titleBaseline":"middle","titleX":-102,"titleY":49,"titleFontSize":20,"titleFont":"Open Sans","titleFontWeight":"normal","titleColor":"#000000"}},
"detail":{"field":"g"}}},
{"data":{"name":"ln"},"mark":{"type":"line","stroke":"#000000","strokeWidth":1.8},"encoding":{
"x":{"field":"x","type":"quantitative","axis":{"orient":"bottom","offset":1,"domainColor":"#666666","domainWidth":2,"labels":false,"ticks":false,"grid":false,"title":null}},
"y":{"field":"c","type":"quantitative","axis":{"orient":"left","offset":0,"values":[2,1,0,-1,-2],"domain":false,"ticks":false,"labelFontSize":4,"labelColor":"#999999","labelPadding":2,"labelFlush":false,"grid":true,"gridDash":[1,1],"gridColor":"#8a8a8a","title":null}},
"detail":{"field":"g"}}},
{"data":{"name":"sc"},"mark":{"type":"circle","size":4,"color":"#555555","opacity":0.8},"encoding":{"x":{"field":"x","type":"quantitative","axis":null},"y":{"field":"c","type":"quantitative","axis":null}}},
{"data":{"values":[{"x1":0,"x2":43.4,"y1":-1.97,"y2":1.97,"col":"#ed1c24"}]},"mark":{"type":"rect","fillOpacity":0,"strokeWidth":2},"encoding":{"x":{"field":"x1","type":"quantitative","axis":null},"x2":{"field":"x2"},"y":{"field":"y1","type":"quantitative","axis":null},"y2":{"field":"y2"},"stroke":{"field":"col","type":"nominal","scale":null}}}
]},
{"width":1011,"height":91,"resolve":{"axis":{"x":"independent","y":"independent"}},"layer":[
{"data":{"name":"ln"},"mark":{"type":"line","stroke":"#555555","strokeWidth":10,"strokeDash":[1,2],"opacity":0.38,"strokeJoin":"bevel","strokeCap":"butt"},"encoding":{
"x":{"field":"x","type":"quantitative","scale":{"domain":[0,144.4],"nice":false,"zero":false},"axis":{"orient":"top","offset":10,"domainColor":"#aaaaaa","labels":false,"ticks":false,"grid":false,"title":"jhu_252206035796_S01_CGH_107_Sep09_1_1_F3-Cy5_Human female reference -Cy3","titleFontSize":6,"titleFont":"DejaVu Sans","titleFontWeight":"normal","titleColor":"#222222","titleX":506,"titleY":5,"titleAlign":"center","titleBaseline":"middle"}},
"y":{"field":"d","type":"quantitative","scale":{"domain":[-2.16,2.82],"nice":false,"zero":false},"axis":{"orient":"left","offset":11,"values":[2,1,0,-1,-2],"domainColor":"#999999","ticks":false,"grid":false,"labelFontSize":17,"labelFont":"Open Sans","labelColor":"#000000","labelPadding":11,"labelBaseline":{"condition":[{"test":"datum.value > 1.5","value":"bottom"},{"test":"datum.value > 0.5","value":"alphabetic"}],"value":"middle"},"labelFlush":false,"labelOverlap":false,"title":"F3","titleAngle":0,"titleAlign":"left","titleBaseline":"middle","titleX":-102,"titleY":49,"titleFontSize":20,"titleFont":"Open Sans","titleFontWeight":"normal","titleColor":"#000000"}},
"detail":{"field":"g"}}},
{"data":{"name":"ln"},"mark":{"type":"line","stroke":"#000000","strokeWidth":1.8},"encoding":{
"x":{"field":"x","type":"quantitative","axis":{"orient":"bottom","offset":1,"domainColor":"#666666","domainWidth":2,"labels":false,"ticks":false,"grid":false,"title":null}},
"y":{"field":"d","type":"quantitative","axis":{"orient":"left","offset":0,"values":[2,1,0,-1,-2],"domain":false,"ticks":false,"labelFontSize":4,"labelColor":"#999999","labelPadding":2,"labelFlush":false,"grid":true,"gridDash":[1,1],"gridColor":"#8a8a8a","title":null}},
"detail":{"field":"g"}}},
{"data":{"name":"sc"},"mark":{"type":"circle","size":4,"color":"#555555","opacity":0.8},"encoding":{"x":{"field":"x","type":"quantitative","axis":null},"y":{"field":"d","type":"quantitative","axis":null}}},
{"data":{"values":[{"x1":21.1,"x2":23.0,"y1":-1.72,"y2":0.22,"col":"#22b14c"},{"x1":23.2,"x2":43.3,"y1":-1.72,"y2":2.14,"col":"#ed1c24"}]},"mark":{"type":"rect","fillOpacity":0,"strokeWidth":2},"encoding":{"x":{"field":"x1","type":"quantitative","axis":null},"x2":{"field":"x2"},"y":{"field":"y1","type":"quantitative","axis":null},"y2":{"field":"y2"},"stroke":{"field":"col","type":"nominal","scale":null}}}
]},
{"width":1011,"height":91,"resolve":{"axis":{"x":"independent","y":"independent"}},"layer":[
{"data":{"name":"ln"},"mark":{"type":"line","stroke":"#555555","strokeWidth":10,"strokeDash":[1,2],"opacity":0.38,"strokeJoin":"bevel","strokeCap":"butt"},"encoding":{
"x":{"field":"x","type":"quantitative","scale":{"domain":[0,144.4],"nice":false,"zero":false},"axis":{"orient":"top","offset":10,"domainColor":"#aaaaaa","labels":false,"ticks":false,"grid":false,"title":"jhu_252206035796_S01_CGH_107_Sep09_1_2_G5-Cy5_Human female reference -Cy3","titleFontSize":6,"titleFont":"DejaVu Sans","titleFontWeight":"normal","titleColor":"#222222","titleX":506,"titleY":5,"titleAlign":"center","titleBaseline":"middle"}},
"y":{"field":"e","type":"quantitative","scale":{"domain":[-2.16,2.82],"nice":false,"zero":false},"axis":{"orient":"left","offset":11,"values":[2,1,0,-1,-2],"domainColor":"#999999","ticks":false,"grid":false,"labelFontSize":17,"labelFont":"Open Sans","labelColor":"#000000","labelPadding":11,"labelBaseline":{"condition":[{"test":"datum.value > 1.5","value":"bottom"},{"test":"datum.value > 0.5","value":"alphabetic"}],"value":"middle"},"labelFlush":false,"labelOverlap":false,"title":"G5","titleAngle":0,"titleAlign":"left","titleBaseline":"middle","titleX":-102,"titleY":49,"titleFontSize":20,"titleFont":"Open Sans","titleFontWeight":"normal","titleColor":"#000000"}},
"detail":{"field":"g"}}},
{"data":{"name":"ln"},"mark":{"type":"line","stroke":"#000000","strokeWidth":1.8},"encoding":{
"x":{"field":"x","type":"quantitative","axis":{"orient":"bottom","offset":1,"domainColor":"#666666","domainWidth":2,"labels":false,"ticks":false,"grid":false,"title":null}},
"y":{"field":"e","type":"quantitative","axis":{"orient":"left","offset":0,"values":[2,1,0,-1,-2],"domain":false,"ticks":false,"labelFontSize":4,"labelColor":"#999999","labelPadding":2,"labelFlush":false,"grid":true,"gridDash":[1,1],"gridColor":"#8a8a8a","title":null}},
"detail":{"field":"g"}}},
{"data":{"name":"sc"},"mark":{"type":"circle","size":4,"color":"#555555","opacity":0.8},"encoding":{"x":{"field":"x","type":"quantitative","axis":null},"y":{"field":"e","type":"quantitative","axis":null}}},
{"data":{"values":[{"x1":21.1,"x2":33.9,"y1":-1.88,"y2":0.11,"col":"#22b14c"},{"x1":34.0,"x2":42.9,"y1":-1.88,"y2":2.4,"col":"#ed1c24"}]},"mark":{"type":"rect","fillOpacity":0,"strokeWidth":2},"encoding":{"x":{"field":"x1","type":"quantitative","axis":null},"x2":{"field":"x2"},"y":{"field":"y1","type":"quantitative","axis":null},"y2":{"field":"y2"},"stroke":{"field":"col","type":"nominal","scale":null}}}
]},
{"width":1011,"height":88,"view":{"stroke":null},"layer":[
{"data":{"name":"bands"},"mark":{"type":"rect","stroke":"#8a8a8a","strokeWidth":1},"encoding":{
"x":{"field":"s","type":"quantitative","scale":{"domain":[0,144.4],"nice":false,"zero":false},"axis":null},
"x2":{"field":"t"},
"y":{"datum":0,"type":"quantitative","scale":{"domain":[0.91,8.91],"reverse":true,"nice":false,"zero":false},"axis":null},
"y2":{"datum":1.05},
"fill":{"field":"k","type":"nominal","scale":{"domain":["w","l","g","d","b"],"range":["#efefef","#b5b5b5","#8e8e8e","#606060","#2b2b2b"]},"legend":null}}},
{"data":{"values":[{"s":-0.3,"t":42.7},{"s":47.6,"t":144.4}]},"mark":{"type":"rect","stroke":"#8a8a8a","strokeWidth":1,"fill":{"gradient":"linear","x1":0,"y1":0,"x2":0,"y2":1,"stops":[{"offset":0,"color":"rgba(255,255,255,0.55)"},{"offset":0.45,"color":"rgba(255,255,255,0)"},{"offset":1,"color":"rgba(0,0,0,0.22)"}]}},"encoding":{
"x":{"field":"s","type":"quantitative"},"x2":{"field":"t"},"y":{"datum":0,"type":"quantitative"},"y2":{"datum":1.05}}},
{"data":{"values":[{"s":42.7,"t":47.6}]},"mark":{"type":"rect","fill":"#f2f2f2","stroke":"#777777","strokeWidth":1},"encoding":{
"x":{"field":"s","type":"quantitative"},"x2":{"field":"t"},"y":{"datum":0.36,"type":"quantitative"},"y2":{"datum":0.68}}},
{"data":{"name":"labs"},"mark":{"type":"text","angle":315,"fontSize":6.5,"font":"Liberation Sans","color":"#444444","align":"center","baseline":"middle"},"encoding":{
"x":{"field":"x","type":"quantitative"},"y":{"datum":2.09,"type":"quantitative"},"text":{"field":"n"}}},
{"data":{"values":[{"gene":"ZNF703","x":36.6}]},"mark":{"type":"point","shape":"M0,-1L0.65,-0.1L0.22,-0.1L0.22,1L-0.22,1L-0.22,-0.1L-0.65,-0.1Z","filled":true,"color":"#000000","opacity":1,"size":380},"encoding":{
"x":{"field":"x","type":"quantitative"},"y":{"datum":5.05,"type":"quantitative"}}},
{"data":{"values":[{"gene":"ZNF703","x":36.4}]},"mark":{"type":"text","fontSize":20,"font":"Open Sans","color":"#000000","align":"center","baseline":"middle"},"encoding":{
"x":{"field":"x","type":"quantitative"},"y":{"datum":7.82,"type":"quantitative"},"text":{"field":"gene"}}}
]}
]
}
